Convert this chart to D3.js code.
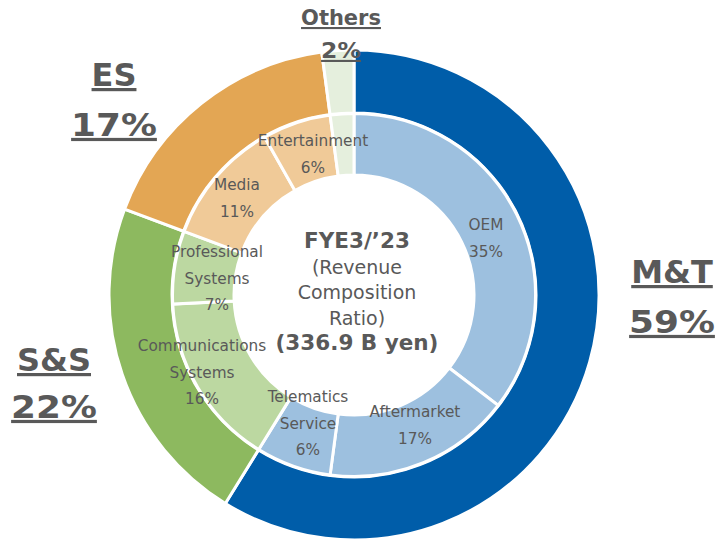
<!DOCTYPE html>
<html>
<head>
<meta charset="utf-8">
<script src="https://cdn.jsdelivr.net/npm/d3@7"></script>
<style>
  body { margin: 0; background: #fff; }
  svg text { font-family: "DejaVu Sans", Verdana, sans-serif; fill: #595959; }
</style>
</head>
<body>
<script>
const w = 719;
const h = 539;
const cx = 354;
const cy = 295;

// outer ring: segments
const segments = ['M&T', 'S&S', 'ES', 'Others'];
const segmentValues = [58.8, 21.9, 17.2, 2.1];
const segmentLabels = ['59%', '22%', '17%', '2%'];

// inner ring: businesses
const businesses = ['OEM', 'Aftermarket', 'Telematics Service', 'Communications Systems', 'Professional Systems', 'Media', 'Entertainment', 'Others'];
const businessSegment = ['M&T', 'M&T', 'M&T', 'S&S', 'S&S', 'ES', 'ES', 'Others'];
const businessValues = [35.4, 16.7, 6.7, 15.4, 6.5, 11.1, 6.1, 2.1];
const businessLabels = ['35%', '17%', '6%', '16%', '7%', '11%', '6%', ''];

const centerLines = ['FYE3/\u201923', '(Revenue', 'Composition', 'Ratio)', '(336.9 B yen)'];

const outerColor = d3.scaleOrdinal().domain(segments).range(['#005DA9', '#8DB95F', '#E3A654', '#E5EFDD']);
const innerColor = d3.scaleOrdinal().domain(segments).range(['#9DC0DF', '#BCD8A1', '#F0CA98', '#E5EFDD']);

const svg = d3.select('body').append('svg')
	.attr('width', w)
	.attr('height', h);

const g = svg.append('g').attr('transform', `translate(${cx},${cy})`);

const pie = d3.pie().sort(null).value(d => d.value);

const outerData = pie(segments.map((s, i) => ({ name: s, value: segmentValues[i], label: segmentLabels[i] })));
const innerData = pie(businesses.map((b, i) => ({ name: b, seg: businessSegment[i], value: businessValues[i], label: businessLabels[i] })));

const outerArc = d3.arc().innerRadius(182).outerRadius(245);
const innerArc = d3.arc().innerRadius(120).outerRadius(181.5);

g.selectAll('path.outer')
	.data(outerData)
	.enter()
	.append('path')
	.attr('class', 'outer')
	.attr('d', outerArc)
	.attr('fill', d => outerColor(d.data.name))
	.attr('stroke', '#fff')
	.attr('stroke-width', 3);

g.selectAll('path.inner')
	.data(innerData)
	.enter()
	.append('path')
	.attr('class', 'inner')
	.attr('d', innerArc)
	.attr('fill', d => innerColor(d.data.seg))
	.attr('stroke', '#fff')
	.attr('stroke-width', 3);

// inner labels (hand placed, like the original)
const innerPos = {
	'OEM': [[486, 230], ['OEM', '35%']],
	'Aftermarket': [[415, 417], ['Aftermarket', '17%']],
	'Telematics Service': [[308, 402], ['Telematics', 'Service', '6%']],
	'Communications Systems': [[202, 351], ['Communications', 'Systems', '16%']],
	'Professional Systems': [[217, 257], ['Professional', 'Systems', '7%']],
	'Media': [[237, 190], ['Media', '11%']],
	'Entertainment': [[313, 146], ['Entertainment', '6%']]
};

innerData.filter(d => innerPos[d.data.name]).forEach(d => {
	const p = innerPos[d.data.name];
	const lines = p[1].slice(0, -1).concat([d.data.label]);
	const t = svg.append('text')
		.attr('x', p[0][0])
		.attr('y', p[0][1])
		.attr('text-anchor', 'middle')
		.style('font-size', '15.3px');
	lines.forEach((l, i) => {
		t.append('tspan')
			.attr('x', p[0][0])
			.attr('dy', i === 0 ? 0 : 26.5)
			.text(l);
	});
});

// centre text
const ct = svg.append('text')
	.attr('text-anchor', 'middle');
centerLines.forEach((l, i) => {
	const bold = i === 0 || i === 4;
	ct.append('tspan')
		.attr('x', 357)
		.attr('y', 248 + i * 25.5)
		.style('font-size', bold ? '21.5px' : '19px')
		.style('font-weight', bold ? 'bold' : 'normal')
		.text(l);
});

// outer labels
const outerPos = {
	'M&T': [672, 283, 32, 50],
	'S&S': [54, 371, 32, 47],
	'ES': [114, 86, 32, 50],
	'Others': [341, 25, 21, 33]
};

outerData.forEach(d => {
	const p = outerPos[d.data.name];
	[d.data.name, d.data.label].forEach((l, i) => {
		// percentages: widen glyphs a little, like Verdana digits
		const sx = i === 1 ? 1.12 : 1;
		svg.append('text')
			.attr('transform', `translate(${p[0]},${p[1] + i * p[3]}) scale(${sx},1)`)
			.attr('text-anchor', 'middle')
			.style('font-size', p[2] + 'px')
			.style('font-weight', 'bold')
			.style('text-decoration', 'underline')
			.text(l);
	});
});
</script>
</body>
</html>
